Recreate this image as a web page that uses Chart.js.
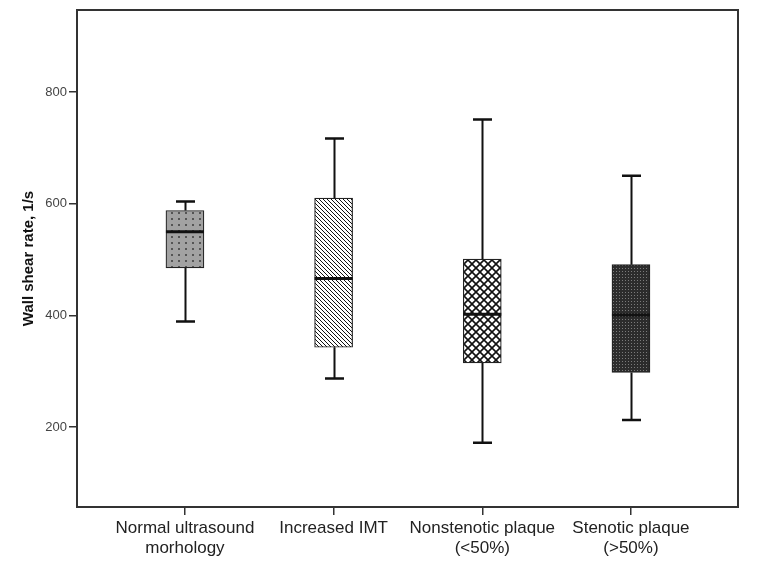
<!DOCTYPE html>
<html><head><meta charset="utf-8">
<script src="https://cdn.jsdelivr.net/npm/chart.js@4"></script>
<style>html,body{margin:0;padding:0;background:#fff}</style>
</head><body>
<canvas id="c" width="757" height="574"></canvas>
<script>
const categories = [["Normal ultrasound","morhology"],["Increased IMT"],["Nonstenotic plaque","(<50%)"],["Stenotic plaque","(>50%)"]];
const whiskerMin = [389, 287, 172, 213];
const q1 = [485, 343, 315, 298];
const median = [550, 466, 402, 401];
const q3 = [588, 610, 501, 491];
const whiskerMax = [604, 717, 751, 650];
const yTicks = [200, 400, 600, 800];
const yTitle = "Wall shear rate, 1/s";

function tile(w, h, draw) {
  const c = document.createElement('canvas');
  c.width = w; c.height = h;
  const g = c.getContext('2d');
  draw(g, w, h);
  return g.createPattern(c, 'repeat');
}
const patterns = [
  tile(7, 6, (g) => { g.fillStyle = '#a2a2a2'; g.fillRect(0,0,7,6); g.fillStyle = '#555'; g.fillRect(3,2,2,2); }),
  tile(4, 4, (g) => { g.fillStyle = '#fff'; g.fillRect(0,0,4,4); g.fillStyle = '#111'; for (let i=0;i<4;i++) g.fillRect(i,i,1,1); }),
  tile(8, 8, (g) => { g.fillStyle = '#fff'; g.fillRect(0,0,8,8); g.strokeStyle = '#111'; g.lineWidth = 1.6;
    g.beginPath(); g.moveTo(-1,-1); g.lineTo(9,9); g.moveTo(9,-1); g.lineTo(-1,9); g.stroke(); }),
  tile(3, 3, (g) => { g.fillStyle = '#2c2c2c'; g.fillRect(0,0,3,3); g.fillStyle = '#7a7a7a'; g.fillRect(1,1,1,1); })
];

const boxPlugin = {
  id: 'boxWhiskers',
  afterDatasetsDraw(chart) {
    const ctx = chart.ctx, ys = chart.scales.y;
    const meta = chart.getDatasetMeta(0);
    ctx.save();
    ctx.strokeStyle = '#111';
    meta.data.forEach((bar, i) => {
      const x = Math.round(bar.x) + 0.5, half = bar.width / 2;
      const yMax = ys.getPixelForValue(whiskerMax[i]), yQ3 = ys.getPixelForValue(q3[i]);
      const yMin = ys.getPixelForValue(whiskerMin[i]), yQ1 = ys.getPixelForValue(q1[i]);
      const yMed = ys.getPixelForValue(median[i]);
      ctx.lineWidth = 2;
      ctx.beginPath();
      ctx.moveTo(x, yQ3); ctx.lineTo(x, yMax);
      ctx.moveTo(x, yQ1); ctx.lineTo(x, yMin);
      ctx.stroke();
      ctx.lineWidth = 2.5;
      ctx.beginPath();
      ctx.moveTo(x - 9.5, yMax); ctx.lineTo(x + 9.5, yMax);
      ctx.moveTo(x - 9.5, yMin); ctx.lineTo(x + 9.5, yMin);
      ctx.stroke();
      ctx.lineWidth = 3;
      ctx.beginPath();
      ctx.moveTo(bar.x - half, yMed); ctx.lineTo(bar.x + half, yMed);
      ctx.stroke();
    });
    ctx.restore();
  },
  afterDraw(chart) {
    const a = chart.chartArea, ctx = chart.ctx;
    ctx.save();
    ctx.strokeStyle = '#333';
    ctx.lineWidth = 2;
    ctx.strokeRect(a.left, a.top, a.right - a.left, a.bottom - a.top);
    ctx.restore();
  }
};

new Chart(document.getElementById('c'), {
  type: 'bar',
  data: {
    datasets: [{
      data: categories.map((c, i) => ({ x: i, y: [q1[i], q3[i]] })),
      backgroundColor: patterns,
      borderColor: '#222',
      borderWidth: 1.2,
      borderSkipped: false,
      barThickness: 38
    }]
  },
  options: {
    responsive: false,
    animation: false,
    devicePixelRatio: 1,
    layout: { padding: { top: 10, right: 19, left: 0, bottom: 0 } },
    plugins: { legend: { display: false }, tooltip: { enabled: false } },
    scales: {
      x: {
        type: 'linear',
        offset: false,
        min: -0.726, max: 3.72,
        afterBuildTicks: (s) => { s.ticks = categories.map((c, i) => ({ value: i })); },
        afterFit: (s) => { s.height = 67; },
        grid: { display: true, offset: false, drawOnChartArea: false, drawTicks: true, tickLength: 8, color: '#333', lineWidth: 1.5 },
        border: { display: false },
        ticks: {
          autoSkip: false, maxRotation: 0, padding: 3,
          font: { family: 'Liberation Sans, Arial, sans-serif', size: 17 },
          color: '#222',
          callback: (v) => categories[v]
        }
      },
      y: {
        min: 57, max: 947,
        afterBuildTicks: (s) => { s.ticks = yTicks.map(v => ({ value: v })); },
        afterFit: (s) => { s.width = 77; },
        grid: { display: true, drawOnChartArea: false, drawTicks: true, tickLength: 8, color: '#333', lineWidth: 1.5 },
        border: { display: false },
        ticks: {
          padding: 2,
          font: { family: 'Liberation Sans, Arial, sans-serif', size: 13 },
          color: '#444'
        },
        title: {
          display: true, text: yTitle,
          font: { family: 'Liberation Sans, Arial, sans-serif', size: 15, weight: 'bold' },
          color: '#111',
          padding: { top: 20, bottom: 0 }
        }
      }
    }
  },
  plugins: [boxPlugin]
});
</script>
</body></html>
